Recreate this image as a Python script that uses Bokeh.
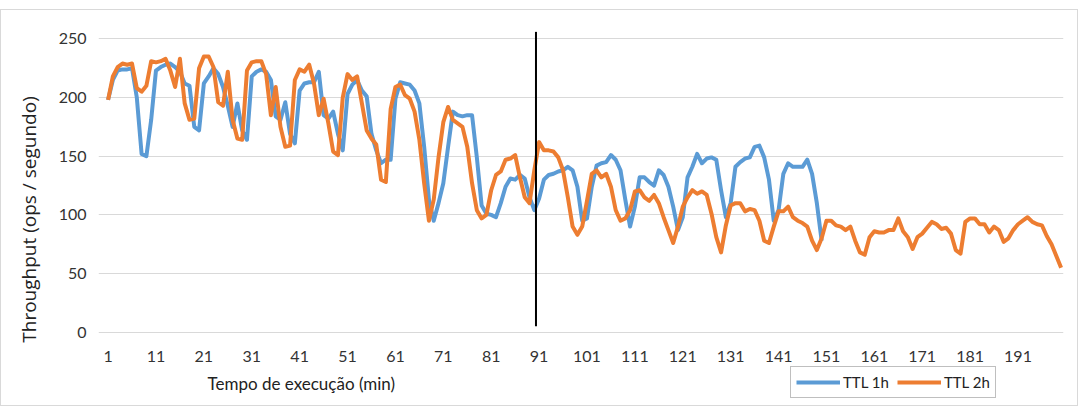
from bokeh.plotting import figure
from bokeh.models import (Range1d, FixedTicker, Legend, LegendItem, Label, Segment,
                          ColumnDataSource)
from bokeh.embed import file_html
from bokeh.resources import INLINE

# ---------------- data ----------------
ttl_1h = [198, 215, 223, 224, 224, 225, 200, 152, 150, 181,
          223, 226, 228, 229, 226, 222, 212, 210, 175, 172,
          212, 218, 225, 220, 209, 193, 175, 195, 172, 164,
          218, 222, 224, 222, 215, 184, 181, 196, 169, 161,
          206, 212, 213, 213, 222, 185, 182, 188, 169, 155,
          203, 211, 215, 206, 201, 169, 155, 144, 147, 147,
          199, 213, 212, 211, 206, 195, 158, 113, 95, 110,
          127, 158, 188, 185, 184, 185, 185, 149, 108, 101,
          100, 98, 110, 124, 131, 130, 134, 131, 115, 104,
          114, 130, 134, 135, 137, 138, 141, 138, 124, 95,
          97, 124, 142, 144, 145, 151, 147, 138, 113, 90,
          107, 132, 132, 128, 125, 138, 134, 124, 107, 87,
          98, 132, 141, 152, 144, 148, 149, 147, 121, 98,
          110, 141, 145, 148, 149, 158, 159, 149, 130, 95,
          104, 135, 144, 141, 141, 141, 147, 135, 110, 78]

ttl_2h = [198, 218, 226, 229, 228, 229, 208, 205, 210, 231,
          230, 231, 233, 223, 209, 233, 195, 181, 182, 225,
          235, 235, 226, 196, 193, 222, 181, 165, 164, 223,
          230, 231, 231, 220, 185, 209, 175, 158, 159, 215,
          224, 222, 228, 212, 185, 199, 178, 154, 151, 200,
          220, 215, 218, 195, 172, 165, 160, 130, 128, 190,
          209, 211, 202, 199, 188, 164, 127, 95, 113, 149,
          179, 192, 181, 178, 175, 158, 127, 104, 97, 100,
          121, 134, 137, 147, 148, 151, 132, 115, 110, 138,
          162, 155, 155, 154, 149, 138, 115, 90, 83, 90,
          112, 135, 138, 132, 135, 124, 104, 95, 97, 104,
          120, 121, 115, 112, 117, 110, 98, 87, 76, 90,
          107, 115, 121, 118, 120, 117, 101, 81, 68, 91,
          108, 110, 110, 103, 105, 104, 95, 78, 76, 90,
          103, 103, 107, 98, 95, 93, 90, 78, 70, 80,
          95, 95, 91, 90, 87, 90, 78, 68, 66, 81,
          86, 85, 85, 87, 87, 97, 86, 81, 71, 81,
          84, 89, 94, 92, 88, 89, 84, 70, 67, 94,
          97, 97, 92, 92, 85, 90, 87, 77, 80, 87,
          92, 95, 98, 94, 92, 91, 82, 75, 65, 55]

minutes_1h = list(range(1, len(ttl_1h) + 1))
minutes_2h = list(range(1, len(ttl_2h) + 1))
x_ticks = list(range(1, 200, 10))
y_ticks = [0, 50, 100, 150, 200, 250]
series_names = ["TTL 1h", "TTL 2h"]
x_title = "Tempo de execução (min)"
y_title = "Throughput (ops / segundo)"
marker_minute = [90.35]
marker_low = [5]
marker_high = [256]

BLUE = "#5B9BD5"
ORANGE = "#ED7D31"
GRID = "#D9D9D9"
FONT = "Lato"

# frame spans from the top margin down to the bottom of the chart; the x axis
# is pinned at y = 0 so that the title and legend can sit beneath it
p = figure(width=1078, height=397, output_backend="svg", toolbar_location=None,
           x_range=Range1d(-1, 200.5), y_range=Range1d(-64.2, 256.3),
           min_border_left=97, min_border_right=16, min_border_top=21,
           min_border_bottom=0)
p.styles = {"margin-top": "9px", "border": "1px solid #D9D9D9"}
p.outline_line_color = None
p.background_fill_color = "white"
p.border_fill_color = "white"

r1 = p.line(minutes_1h, ttl_1h, line_color=BLUE, line_width=4, line_join="round")
r2 = p.line(minutes_2h, ttl_2h, line_color=ORANGE, line_width=4, line_join="round")

src = ColumnDataSource(dict(x=marker_minute, y0=marker_low, y1=marker_high))
p.add_glyph(src, Segment(x0="x", y0="y0", x1="x", y1="y1", line_color="black", line_width=2))

# axes
p.xaxis.fixed_location = 0
p.xaxis.ticker = FixedTicker(ticks=x_ticks)
p.yaxis.ticker = FixedTicker(ticks=y_ticks)
for ax in (p.xaxis[0], p.yaxis[0]):
    ax.axis_line_color = None
    ax.major_tick_line_color = None
    ax.minor_tick_line_color = None
    ax.major_label_text_font = FONT
    ax.major_label_text_font_size = "16px"
    ax.major_label_text_color = "#333333"
p.xaxis.major_label_standoff = 13
p.yaxis.major_label_standoff = 6
p.xgrid.grid_line_color = None
p.ygrid.grid_line_color = GRID
p.ygrid.grid_line_width = 1
p.ygrid.bounds = (1, 200)

p.yaxis.axis_label = y_title
p.yaxis.axis_label_text_font = "Open Sans"
p.yaxis.axis_label_text_font_style = "normal"
p.yaxis.axis_label_text_font_size = "19px"
p.yaxis.axis_label_text_color = "#222222"
p.yaxis.axis_label_standoff = 14

xt = Label(x=109, y=24, x_units="screen", y_units="screen", text=x_title,
           text_font=FONT, text_font_size="17px", text_baseline="middle",
           text_color="#222222")
p.add_layout(xt)

legend = Legend(items=[LegendItem(label=series_names[0], renderers=[r1]),
                       LegendItem(label=series_names[1], renderers=[r2])],
                orientation="horizontal", location=(692, 9),
                label_text_font=FONT, label_text_font_size="15px",
                label_text_color="#222222",
                glyph_width=44, label_standoff=3, spacing=8, padding=5,
                margin=0,
                border_line_color="#7f7f7f", border_line_width=1,
                background_fill_alpha=1)
p.add_layout(legend, "center")

open("out.html", "w").write(file_html(p, INLINE))
